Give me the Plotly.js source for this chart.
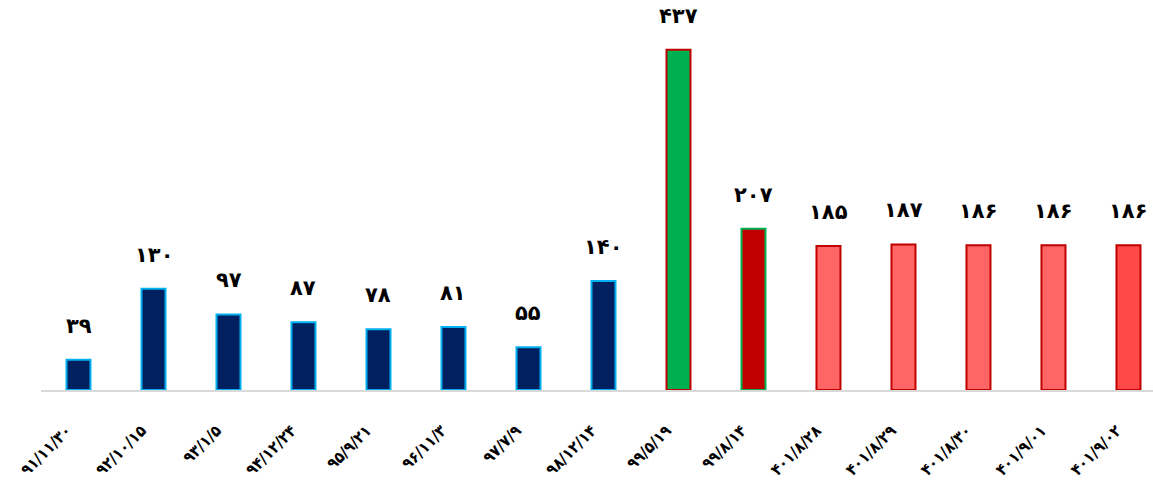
<!DOCTYPE html>
<html>
<head>
<meta charset="utf-8">
<script src="https://cdn.plot.ly/plotly-3.0.1.min.js"></script>
<style>html,body{margin:0;padding:0;background:#fff;}#chart{width:1153px;height:485px;}</style>
</head>
<body>
<div id="chart"></div>
<script>
const categories = ["۹۱/۱۱/۳۰","۹۲/۱۰/۱۵","۹۳/۱/۵","۹۴/۱۲/۲۴","۹۵/۹/۲۱","۹۶/۱۱/۳","۹۷/۷/۹","۹۸/۱۲/۱۴","۹۹/۵/۱۹","۹۹/۸/۱۴","۴۰۱/۸/۲۸","۴۰۱/۸/۲۹","۴۰۱/۸/۳۰","۴۰۱/۹/۰۱","۴۰۱/۹/۰۲"];
const values = [39,130,97,87,78,81,55,140,437,207,185,187,186,186,186];
const valueLabels = ["۳۹","۱۳۰","۹۷","۸۷","۷۸","۸۱","۵۵","۱۴۰","۴۳۷","۲۰۷","۱۸۵","۱۸۷","۱۸۶","۱۸۶","۱۸۶"];
const fillColors = ["#002060","#002060","#002060","#002060","#002060","#002060","#002060","#002060","#00B050","#C00000","#FF6565","#FF6565","#FF6565","#FF6565","#FF4848"];
const lineColors = ["#00B0F0","#00B0F0","#00B0F0","#00B0F0","#00B0F0","#00B0F0","#00B0F0","#00B0F0","#C00000","#00B050","#C00000","#C00000","#C00000","#C00000","#C00000"];

const idx = categories.map((_, i) => i);
const labelOffset = -0.16; // visual nudge of rotated labels

const trace = {
  type: 'bar',
  x: idx,
  y: values,
  marker: {color: fillColors, line: {color: lineColors, width: 2}},
  hoverinfo: 'skip'
};

const annotations = values.map((v, i) => ({
  x: i, y: v, xref: 'x', yref: 'y',
  text: valueLabels[i],
  showarrow: false,
  yanchor: 'bottom',
  yshift: 20,
  font: {family: 'DejaVu Sans', size: 21, color: '#000', weight: 'bold'}
}));

const layout = {
  width: 1153, height: 485,
  margin: {l: 41, r: 0, t: 0, b: 95},
  paper_bgcolor: '#fff', plot_bgcolor: '#fff',
  showlegend: false,
  bargap: 0.68,
  xaxis: {
    tickmode: 'array', tickvals: idx.map(i => i + labelOffset), ticktext: categories,
    range: [-0.5, 14.327],
    tickangle: -45,
    ticks: '',
    ticklabelstandoff: 23,
    showline: true, linecolor: '#D9D9D9', linewidth: 2,
    showgrid: false, zeroline: false,
    tickfont: {family: 'DejaVu Sans Condensed', size: 16, color: '#000', weight: 'bold'}
  },
  yaxis: {
    range: [0, 501], visible: false, showgrid: false, zeroline: false
  },
  annotations: annotations
};

Plotly.newPlot('chart', [trace], layout, {displayModeBar: false, staticPlot: true});
</script>
</body>
</html>
